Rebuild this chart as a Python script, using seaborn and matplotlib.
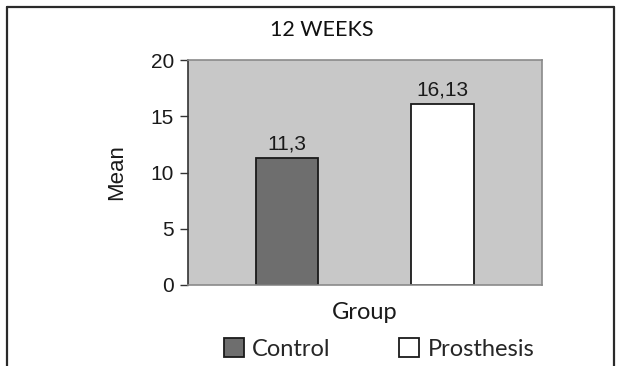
import matplotlib
matplotlib.use("Agg")
import matplotlib.pyplot as plt
from matplotlib.lines import Line2D
import seaborn as sns
import pandas as pd

groups = ["Control", "Prosthesis"]
means = [11.3, 16.13]
value_labels = ["11,3", "16,13"]
yticks = [0, 5, 10, 15, 20]

sns.set_theme(style="white")
plt.rcParams["font.family"] = ["Liberation Sans", "DejaVu Sans"]

df = pd.DataFrame({"Group": groups, "Mean": means})
colors = {"Control": "#6e6e6e", "Prosthesis": "white"}

fig = plt.figure(figsize=(6.21, 3.66), dpi=100)
fig.patch.set_facecolor("white")
ax = fig.add_axes([188 / 621, 1 - 285 / 366, 354 / 621, 225 / 366])
ax.set_facecolor("#c8c8c8")

sns.barplot(data=df, x="Group", y="Mean", hue="Group", palette=colors,
            edgecolor="#1a1a1a", linewidth=1.3, width=0.4,
            dodge=False, legend=False, ax=ax)

ax.set_xlim(-0.637, 1.64)
ax.set_ylim(0, 20)
ax.set_yticks(yticks)
ax.set_yticklabels([str(t) for t in yticks], fontsize=15, color="#1a1a1a")
ax.tick_params(axis="y", which="both", left=True, length=6, width=1,
               color="#333333", pad=4)
ax.set_xticks([])

for side in ("top", "right", "bottom"):
    ax.spines[side].set_visible(True)
    ax.spines[side].set_color("#8a8a8a")
    ax.spines[side].set_linewidth(1.2)
ax.spines["left"].set_color("#333333")
ax.spines["left"].set_linewidth(1.2)

# Value labels with comma decimals above each bar
for i, (v, lab) in enumerate(zip(means, value_labels)):
    ax.annotate(lab, xy=(i, v), xytext=(0, 3), textcoords="offset points",
                ha="center", va="bottom", fontsize=15, color="#1a1a1a")

ax.set_ylabel("Mean", fontsize=16, color="#1a1a1a", labelpad=17)
ax.set_xlabel("Group", fontsize=17, color="#1a1a1a", labelpad=12,
              family=["Lato", "DejaVu Sans"])

fig.text(0.518, 1 - 30 / 366, "12 WEEKS", ha="center", va="center",
         fontsize=15.5, color="#111111", family=["Lato", "DejaVu Sans"])

handles = [plt.Rectangle((0, 0), 1, 1, facecolor=colors[g],
                         edgecolor="#1a1a1a", linewidth=1.3) for g in groups]
fig.legend(handles, groups, loc="center left",
           bbox_to_anchor=(224 / 621, 1 - 349 / 366),
           ncol=2, frameon=False, borderpad=0, borderaxespad=0,
           handlelength=0.85, handleheight=0.85,
           handletextpad=0.35, columnspacing=2.9,
           prop={"family": ["Lato", "DejaVu Sans"], "size": 17})

# Outer frame around the chart
frame_kw = dict(color="#2a2a2a", linewidth=1.6, transform=fig.transFigure)
fig.add_artist(Line2D([7 / 621, 7 / 621], [0, 1 - 7 / 366], **frame_kw))
fig.add_artist(Line2D([7 / 621, 614 / 621], [1 - 7 / 366, 1 - 7 / 366], **frame_kw))
fig.add_artist(Line2D([614 / 621, 614 / 621], [0, 1 - 7 / 366], **frame_kw))

fig.savefig("out.png", dpi=100)
